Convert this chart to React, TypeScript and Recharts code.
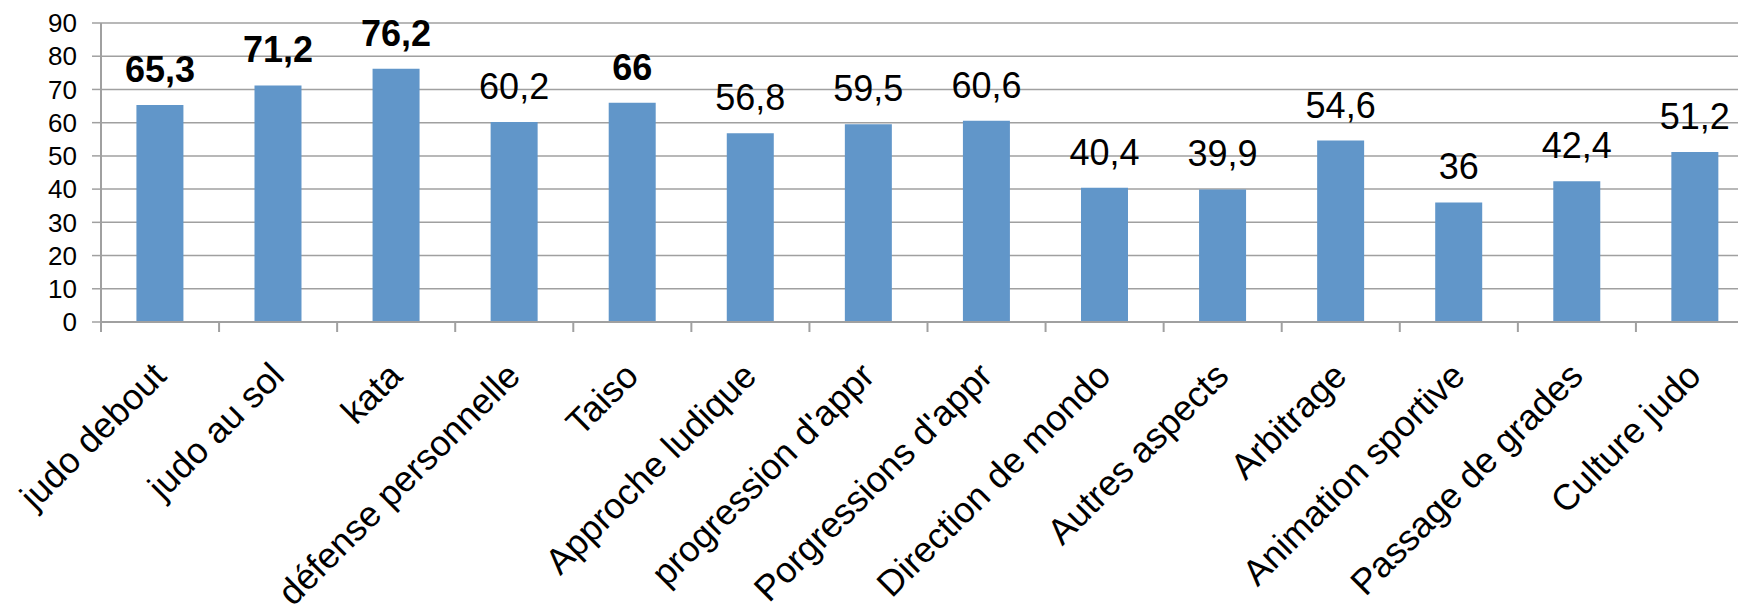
import * as React from 'react';
import { Bar, BarChart, CartesianGrid, LabelList, XAxis, YAxis } from 'recharts';

const categories = [
  'judo debout',
  'judo au sol',
  'kata',
  'défense personnelle',
  'Taiso',
  'Approche ludique',
  "progression d'appr",
  "Porgressions d'appr",
  'Direction de mondo',
  'Autres aspects',
  'Arbitrage',
  'Animation sportive',
  'Passage de grades',
  'Culture judo',
];

const values = [65.3, 71.2, 76.2, 60.2, 66, 56.8, 59.5, 60.6, 40.4, 39.9, 54.6, 36, 42.4, 51.2];

// which data labels are drawn in bold in the original
const boldLabels = [true, true, true, false, true, false, false, false, false, false, false, false, false, false];

const yTicks = [0, 10, 20, 30, 40, 50, 60, 70, 80, 90];

const data = categories.map((name, i) => ({ name, value: values[i] }));

const CHART_W = 1760;
const CHART_H = 604;
const Y_AXIS_W = 101;
const RIGHT = 6;
const band = (CHART_W - Y_AXIS_W - RIGHT) / categories.length;

const axisColor = '#a0a0a0';
const barColor = '#6196c9';
const font = '"Liberation Sans", Arial, sans-serif';

function CategoryTick(props: any) {
  const { x, y, payload } = props;
  const left = x - band / 2;
  const tx = x + 8;
  const ty = y + 56;
  return (
    <g>
      <line x1={left} y1={y} x2={left} y2={y + 10} stroke={axisColor} strokeWidth={2} />
      <text x={tx} y={ty} transform={`rotate(-45, ${tx}, ${ty})`} textAnchor="end" fontSize={36} fontFamily={font} fill="#000">
        {payload.value}
      </text>
    </g>
  );
}

function ValueLabel(props: any) {
  const { x, y, width, value, index } = props;
  return (
    <text
      x={x + width / 2}
      y={y - 23}
      textAnchor="middle"
      fontSize={36}
      fontWeight={boldLabels[index] ? 'bold' : 'normal'}
      fontFamily={font}
      fill="#000"
    >
      {String(value).replace('.', ',')}
    </text>
  );
}

export default function App() {
  return (
    <div style={{ position: 'absolute', left: 0, top: 0, width: 1738, height: 604, overflow: 'hidden', background: '#fff' }}>
      <BarChart width={CHART_W} height={CHART_H} data={data} margin={{ top: 23, right: RIGHT, bottom: 0, left: 0 }} barCategoryGap="30%">
        <CartesianGrid vertical={false} stroke={axisColor} strokeWidth={1.5} />
        <XAxis
          dataKey="name"
          interval={0}
          height={282}
          tickSize={0}
          tickMargin={0}
          tickLine={false}
          axisLine={{ stroke: axisColor, strokeWidth: 2 }}
          tick={<CategoryTick />}
        />
        <YAxis
          width={Y_AXIS_W}
          domain={[0, 90]}
          ticks={yTicks}
          interval={0}
          tickSize={9}
          tickMargin={15}
          axisLine={{ stroke: axisColor, strokeWidth: 2 }}
          tickLine={{ stroke: axisColor, strokeWidth: 1.5 }}
          tick={{ fontSize: 26, fill: '#000', fontFamily: font }}
        />
        <Bar dataKey="value" fill={barColor} isAnimationActive={false}>
          <LabelList dataKey="value" content={<ValueLabel />} />
        </Bar>
      </BarChart>
    </div>
  );
}
